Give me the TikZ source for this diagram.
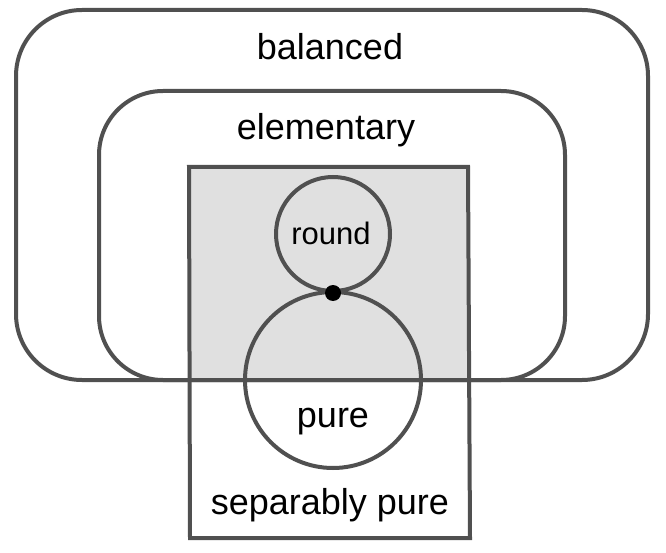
\documentclass[tikz,border=0pt]{standalone}
\usepackage{fontspec}
\setmainfont{Liberation Sans}
\usepackage{tikz}

\definecolor{setline}{HTML}{505050}
\definecolor{setshade}{HTML}{E0E0E0}
\tikzset{
	setedge/.style={draw=setline, line width=4pt},
	setlabel/.style={anchor=base, font=\fontsize{36}{40}\selectfont},
	smalllabel/.style={anchor=base, font=\fontsize{31}{34}\selectfont}
}

\begin{document}
\begin{tikzpicture}[x=1pt,y=-1pt]
	\useasboundingbox (0,0) rectangle (666,553);
	% shaded part of the square
	\fill[setshade] (189,167) -- (468,167) -- (469,380) -- (189,380) -- cycle;
	\draw[setedge, rounded corners=66pt] (16,10) rectangle (648,380);
	\draw[setedge, rounded corners=64pt] (99,91) rectangle (565,380);
	\draw[setedge] (189,167) -- (468,167) -- (470,538) -- (190,538) -- cycle;
	\draw[setedge] (333,234) circle (57pt);
	\draw[setedge] (333,380) circle (88pt);
	\fill (333,293) circle (8pt);
	\node[setlabel] (balanced) at (330,60) {balanced};
	\node[setlabel] (elementary) at (326,140) {elementary};
	\node[smalllabel] (round) at (331,245) {round};
	\node[setlabel] (pure) at (333,427) {pure};
	\node[setlabel] (seppure) at (330,514) {separably pure};
\end{tikzpicture}
\end{document}
